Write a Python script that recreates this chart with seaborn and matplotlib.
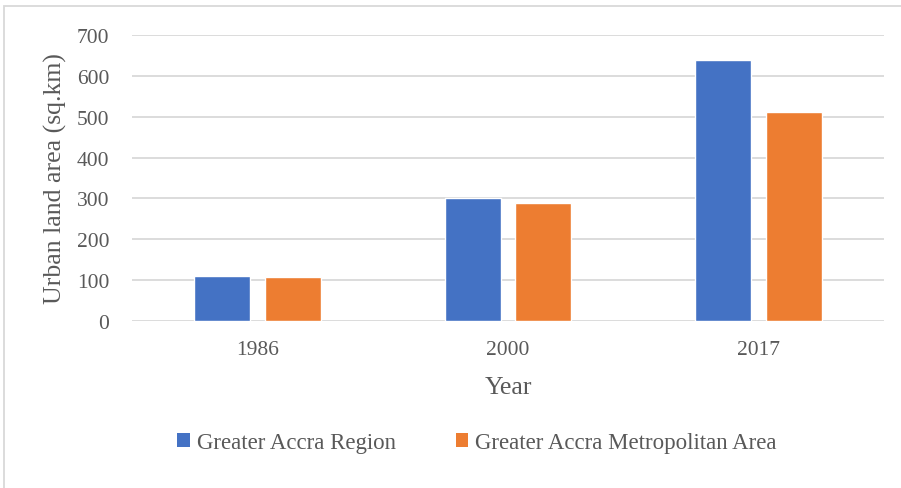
import matplotlib
matplotlib.use("Agg")
import matplotlib.pyplot as plt
from matplotlib.patches import Rectangle, Patch
import seaborn as sns
import pandas as pd

years = ["1986", "2000", "2017"]
region = [110, 301, 640]
metro = [108, 288, 511]
series_names = ["Greater Accra Region", "Greater Accra Metropolitan Area"]
colors = ["#4472C4", "#ED7D31"]

df = pd.DataFrame({
    "Year": years * 2,
    "Area": region + metro,
    "Series": [series_names[0]] * 3 + [series_names[1]] * 3,
})

sns.set_theme(style="white")
plt.rcParams["font.family"] = ["Liberation Serif", "DejaVu Serif"]
text_color = "#595959"
grid_color = "#D9D9D9"

W, H = 901, 489
fig = plt.figure(figsize=(W / 100, H / 100), dpi=100)
ax = fig.add_axes([132 / W, 1 - 322 / H, (884 - 132) / W, (322 - 36) / H])

sns.barplot(data=df, x="Year", y="Area", hue="Series", order=years,
            hue_order=series_names, palette=colors, width=0.566, gap=0.21,
            saturation=1, ax=ax, legend=False, zorder=3)

ax.set_xlim(-0.5, 2.5)
ax.set_ylim(0, 700)
ax.set_yticks(range(0, 701, 100))
ax.yaxis.grid(True, color=grid_color, linewidth=1.3, zorder=0)
ax.set_axisbelow(True)
for s in ax.spines.values():
    s.set_visible(False)
ax.tick_params(axis="both", length=0, colors=text_color, labelsize=15.5)
ax.tick_params(axis="y", pad=16.5)
ax.tick_params(axis="x", pad=14)
ax.set_xlabel("Year", fontsize=18.5, color=text_color, labelpad=12)
ax.set_ylabel("Urban land area (sq.km)", fontsize=18.5, color=text_color, labelpad=7)

handles = [Patch(facecolor=c, edgecolor="none") for c in colors]
fig.legend(handles, series_names, loc="center", bbox_to_anchor=(477 / W, 1 - 444 / H),
           ncol=2, frameon=False, fontsize=16.5, labelcolor=text_color,
           handlelength=0.55, handleheight=0.55, handletextpad=0.3, columnspacing=2.6)

fig.patches.append(Rectangle((4 / W, -0.05), 1.1, 1.05 - 7 / H, transform=fig.transFigure,
                             fill=False, edgecolor=grid_color, linewidth=1.3))

fig.savefig("out.png", dpi=100)
